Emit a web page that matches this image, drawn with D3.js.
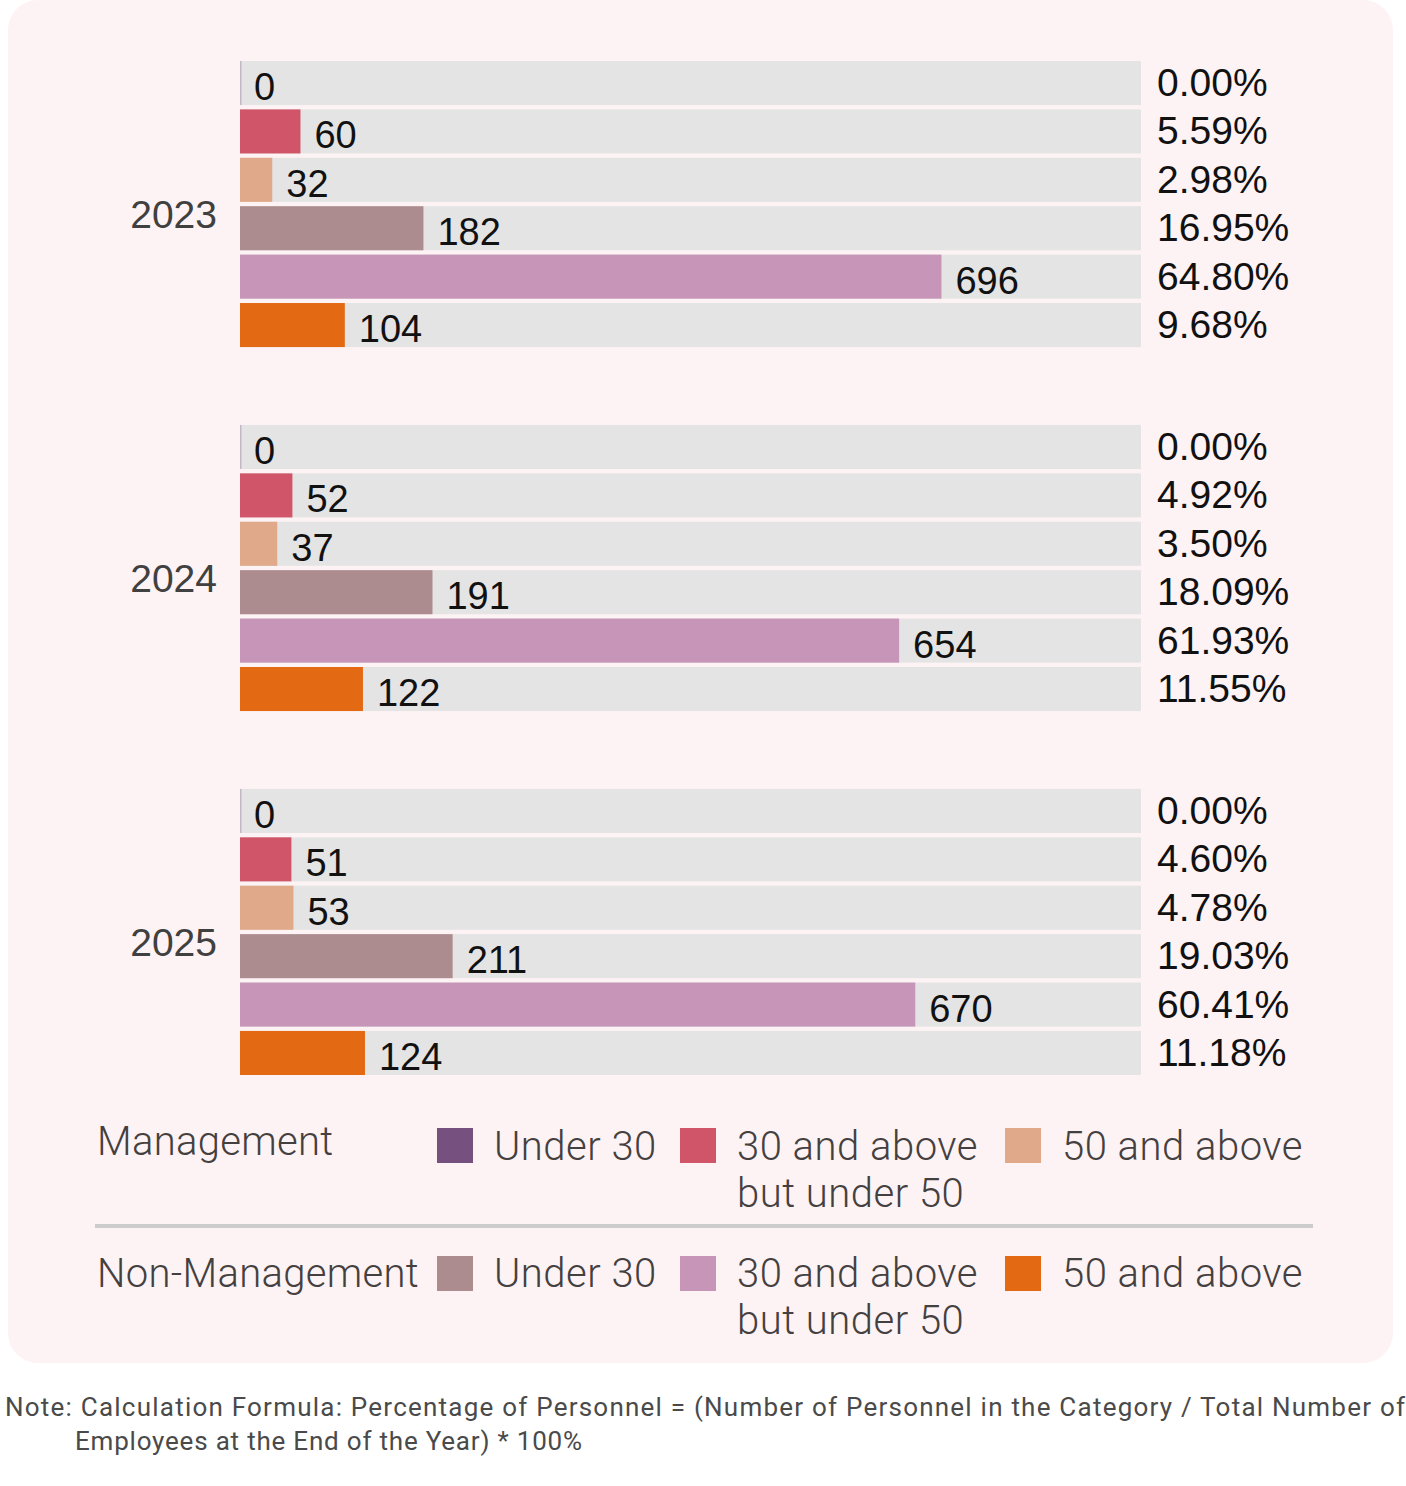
<!DOCTYPE html>
<html>
<head>
<meta charset="utf-8">
<script src="https://cdn.jsdelivr.net/npm/d3@7"></script>
<style>
  body { margin: 0; background: #ffffff; }
  svg { display: block; }
</style>
</head>
<body>
<div id="chart"></div>
<script>
var width = 1406;
var height = 1486;

// data
var years = ["2023", "2024", "2025"];
var categories = ["mU30", "m30to50", "m50", "nU30", "n30to50", "n50"];
var counts2023 = [0, 60, 32, 182, 696, 104];
var counts2024 = [0, 52, 37, 191, 654, 122];
var counts2025 = [0, 51, 53, 211, 670, 124];
var pct2023 = ["0.00%", "5.59%", "2.98%", "16.95%", "64.80%", "9.68%"];
var pct2024 = ["0.00%", "4.92%", "3.50%", "18.09%", "61.93%", "11.55%"];
var pct2025 = ["0.00%", "4.60%", "4.78%", "19.03%", "60.41%", "11.18%"];
var groupNames = ["Management", "Non-Management"];
var legendLabels = [["Under 30"], ["30 and above", "but under 50"], ["50 and above"]];
var noteLines = [
  "Note: Calculation Formula: Percentage of Personnel = (Number of Personnel in the Category / Total Number of",
  "Employees at the End of the Year) * 100%"
];

var colors = ["#76507f", "#d15568", "#e0a98a", "#ad8c8f", "#c695b7", "#e36912"];

var counts = [counts2023, counts2024, counts2025];
var pcts = [pct2023, pct2024, pct2025];

var color = d3.scaleOrdinal().domain(categories).range(colors);

var svg = d3.select("#chart").append("svg")
    .attr("width", width)
    .attr("height", height);

// panel
svg.append("rect")
    .attr("x", 8)
    .attr("y", 0)
    .attr("width", 1385)
    .attr("height", 1363)
    .attr("rx", 30)
    .attr("fill", "#fdf3f4");

var x = d3.scaleLinear()
    .domain([0, 894])
    .range([240, 1141]);

var yGroup = d3.scaleBand()
    .domain(years)
    .range([61, 1075])
    .paddingInner(0.214);

var yRow = d3.scaleBand()
    .domain(categories)
    .range([0, yGroup.bandwidth()])
    .paddingInner(0.09);

var labelFont = "'Liberation Sans', Arial, sans-serif";

var groups = svg.selectAll("g.year")
    .data(years)
    .enter().append("g")
    .attr("class", "year")
    .attr("transform", function(d) { return "translate(0," + yGroup(d) + ")"; });

groups.append("text")
    .attr("x", 217)
    .attr("y", yGroup.bandwidth() / 2 + 24)
    .attr("text-anchor", "end")
    .attr("font-family", labelFont)
    .attr("font-size", 39)
    .attr("fill", "#404040")
    .text(function(d) { return d; });

var rows = groups.selectAll("g.row")
    .data(function(d, i) {
      return categories.map(function(c, j) {
        return { key: c, value: counts[i][j], pct: pcts[i][j] };
      });
    })
    .enter().append("g")
    .attr("class", "row")
    .attr("transform", function(d) { return "translate(0," + yRow(d.key) + ")"; });

// track
rows.append("rect")
    .attr("x", x(0))
    .attr("width", x.range()[1] - x(0))
    .attr("height", yRow.bandwidth())
    .attr("fill", "#e4e4e4");

// bar
rows.append("rect")
    .attr("x", x(0))
    .attr("width", function(d) { return d.value === 0 ? 1.5 : x(d.value) - x(0); })
    .attr("height", yRow.bandwidth())
    .attr("fill", function(d) { return color(d.key); })
    .attr("fill-opacity", function(d) { return d.value === 0 ? 0.3 : 1; });

rows.append("text")
    .attr("x", function(d) { return x(d.value) + 14; })
    .attr("y", 39)
    .attr("font-family", labelFont)
    .attr("font-size", 38)
    .attr("fill", "#111")
    .text(function(d) { return d.value; });

rows.append("text")
    .attr("x", 1157)
    .attr("y", 35)
    .attr("font-family", labelFont)
    .attr("font-size", 39)
    .attr("fill", "#111")
    .text(function(d) { return d.pct; });

// legend
var legendFont = "Roboto, 'Liberation Sans', sans-serif";
var legendRows = [
  { name: groupNames[0], keys: categories.slice(0, 3), y: 1155, itemY: 1160, sq: 1128 },
  { name: groupNames[1], keys: categories.slice(3), y: 1287, itemY: 1287, sq: 1256 }
];
var itemX = [437, 680, 1005];

var legend = svg.selectAll("g.legend")
    .data(legendRows)
    .enter().append("g")
    .attr("class", "legend");

legend.append("text")
    .attr("x", 97)
    .attr("y", function(d) { return d.y; })
    .attr("font-family", legendFont)
    .attr("font-weight", 300)
    .attr("font-size", 40)
    .attr("letter-spacing", 0.3)
    .attr("fill", "#454040")
    .text(function(d) { return d.name; });

legend.each(function(row) {
  var g = d3.select(this);
  row.keys.forEach(function(k, i) {
    g.append("rect")
        .attr("x", itemX[i])
        .attr("y", row.sq)
        .attr("width", 36)
        .attr("height", 35)
        .attr("fill", color(k));
    var t = g.append("text")
        .attr("font-family", legendFont)
        .attr("font-weight", 300)
        .attr("font-size", 40)
        .attr("letter-spacing", 0.5)
        .attr("fill", "#454040");
    legendLabels[i].forEach(function(line, li) {
      t.append("tspan")
          .attr("x", itemX[i] + 57)
          .attr("y", row.itemY + li * 47)
          .text(line);
    });
  });
});

svg.append("line")
    .attr("x1", 95)
    .attr("x2", 1313)
    .attr("y1", 1226)
    .attr("y2", 1226)
    .attr("stroke", "#cccccc")
    .attr("stroke-width", 4);

// note
svg.append("text")
    .attr("x", 5)
    .attr("y", 1416)
    .attr("font-family", legendFont)
    .attr("font-size", 26)
    .attr("fill", "#4a4a4a")
    .attr("textLength", 1400)
    .attr("lengthAdjust", "spacing")
    .text(noteLines[0]);

svg.append("text")
    .attr("x", 75)
    .attr("y", 1450)
    .attr("font-family", legendFont)
    .attr("font-size", 26)
    .attr("fill", "#4a4a4a")
    .attr("textLength", 507)
    .attr("lengthAdjust", "spacing")
    .text(noteLines[1]);
</script>
</body>
</html>
